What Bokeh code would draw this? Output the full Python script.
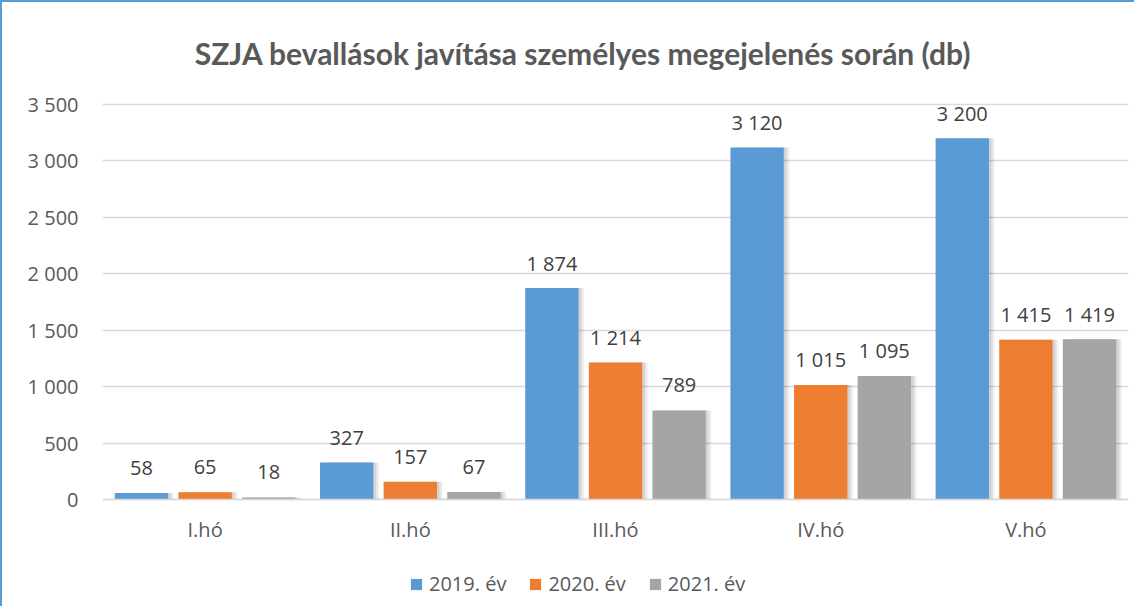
from bokeh.plotting import figure
from bokeh.models import (ColumnDataSource, FactorRange, Range1d, FixedTicker, LabelSet,
                          Legend, LegendItem, Label)
from bokeh.transform import dodge
from bokeh.core.properties import value
from bokeh.embed import file_html
from bokeh.resources import INLINE

# ---- data ----
categories = ["I.hó", "II.hó", "III.hó", "IV.hó", "V.hó"]
series_names = ["2019. év", "2020. év", "2021. év"]
v2019 = [58, 327, 1874, 3120, 3200]
v2020 = [65, 157, 1214, 1015, 1415]
v2021 = [18, 67, 789, 1095, 1419]
y_ticks = [0, 500, 1000, 1500, 2000, 2500, 3000, 3500]
title_text = "SZJA bevallások javítása személyes megejelenés során (db)"

colors = ["#5B9BD5", "#ED7D31", "#A5A5A5"]
TXT = "#595959"
LBL = "#404040"
FONT = "Open Sans"

# ---- layout (pixels) ----
W, H = 1134, 606
LEFT, RIGHT = 100, 8
Y_TOP_PX, Y_ZERO_PX = 102, 497          # pixel rows of the 3500 and 0 grid lines
px_per_unit = (Y_ZERO_PX - Y_TOP_PX) / y_ticks[-1]
y_end = y_ticks[-1] + Y_TOP_PX / px_per_unit
y_start = -(H - Y_ZERO_PX) / px_per_unit


def fmt(v):
    return f"{v:,}".replace(",", " ")


src = ColumnDataSource(dict(
    cat=categories,
    s0=v2019, s1=v2020, s2=v2021,
    l0=[fmt(v) for v in v2019],
    l1=[fmt(v) for v in v2020],
    l2=[fmt(v) for v in v2021],
))

p = figure(x_range=FactorRange(*categories, range_padding=0), y_range=Range1d(y_start, y_end),
           width=W, height=H, output_backend="svg", toolbar_location=None,
           min_border_left=LEFT, min_border_right=RIGHT, min_border_top=0, min_border_bottom=0)
p.styles = {"border-left": "2px solid #5B9BD5", "border-top": "2px solid #5B9BD5"}
p.outline_line_color = None
p.background_fill_color = "white"
p.border_fill_color = "white"

# grid
p.xgrid.grid_line_color = None
p.ygrid.ticker = FixedTicker(ticks=y_ticks)
p.ygrid.grid_line_color = "#D9D9D9"
p.ygrid.grid_line_width = 1.3

# axes
p.yaxis.ticker = FixedTicker(ticks=y_ticks)
p.yaxis.major_label_overrides = {t: fmt(t) for t in y_ticks}
p.yaxis.axis_line_color = None
p.yaxis.major_tick_line_color = None
p.yaxis.minor_tick_line_color = None
p.yaxis.major_label_standoff = 18
p.yaxis.major_label_text_font = FONT
p.yaxis.major_label_text_font_size = "20px"
p.yaxis.major_label_text_color = TXT

xa = p.xaxis[0]
xa.fixed_location = 0
xa.axis_line_color = "#D9D9D9"
xa.axis_line_width = 1.5
xa.major_tick_line_color = None
xa.minor_tick_line_color = None
xa.major_label_standoff = 10
xa.major_label_text_font = FONT
xa.major_label_text_font_size = "20px"
xa.major_label_text_color = TXT

offsets = [-0.31, 0.0, 0.31]
bw = 0.26
renderers = []
for i, (off, col) in enumerate(zip(offsets, colors)):
    # soft shadow
    for k, a in ((0.012, 0.07), (0.02, 0.06), (0.028, 0.05)):
        p.vbar(x=dodge("cat", off + k, range=p.x_range), top=f"s{i}", width=bw, bottom=0,
               source=src, fill_color="black", fill_alpha=a, line_color=None)
    r = p.vbar(x=dodge("cat", off, range=p.x_range), top=f"s{i}", width=bw, bottom=0,
               source=src, fill_color=col, line_color=None)
    renderers.append(r)
    labels = LabelSet(x=dodge("cat", off, range=p.x_range), y=f"s{i}", text=f"l{i}",
                      source=src, text_align="center", text_baseline="middle", y_offset=25,
                      text_font=value(FONT), text_font_size="20px", text_color=LBL)
    p.add_layout(labels)

legend = Legend(items=[LegendItem(label=n, renderers=[r]) for n, r in zip(series_names, renderers)],
                orientation="horizontal", location=(307, 11),
                glyph_width=14, glyph_height=14, label_standoff=6, spacing=22,
                padding=0, margin=0, border_line_color=None, background_fill_alpha=0,
                label_text_font=FONT, label_text_font_size="20px", label_text_color=TXT)
p.add_layout(legend, "center")

# chart title, centred over the whole chart box
title_y = y_ticks[-1] + (Y_TOP_PX - 50) / px_per_unit
title = Label(x=2.342, y=title_y, text=title_text, text_align="center", text_baseline="middle",
              text_font="Lato", text_font_style="bold", text_font_size="30px", text_color=TXT)
p.add_layout(title)

open("out.html", "w").write(file_html(p, INLINE))
